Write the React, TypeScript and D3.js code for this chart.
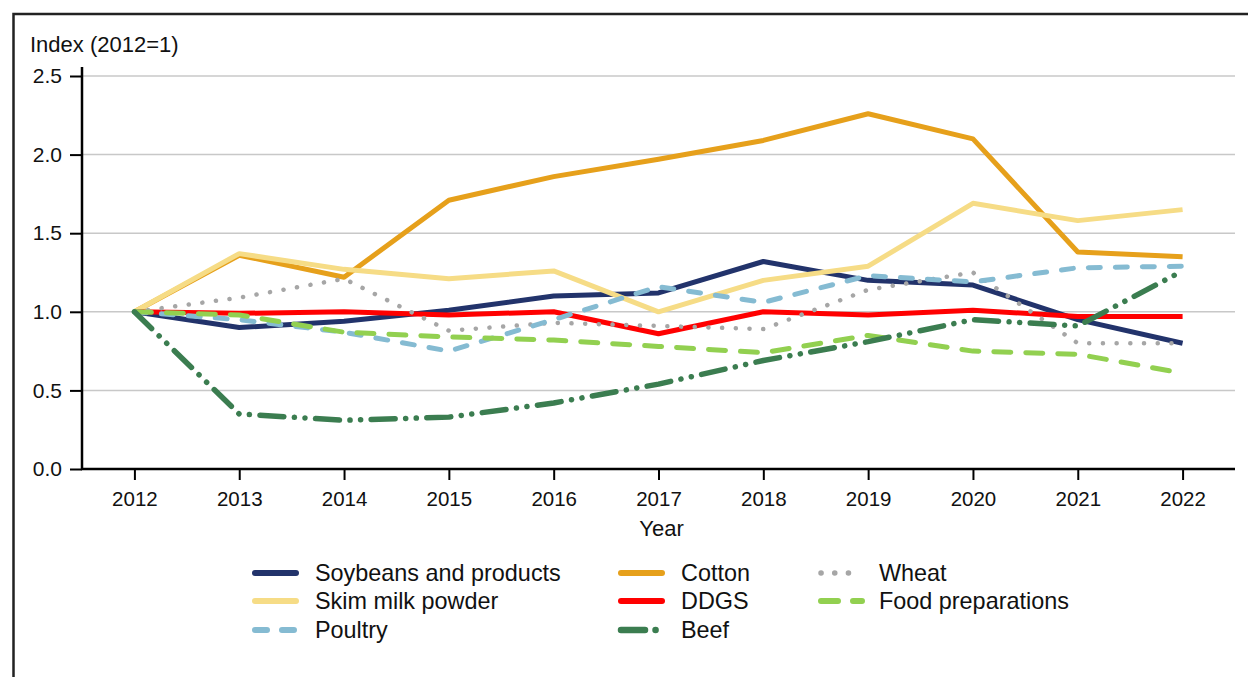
import * as React from "react";
import * as d3 from "d3";

const years = [2012, 2013, 2014, 2015, 2016, 2017, 2018, 2019, 2020, 2021, 2022];
const yTicks = [0, 0.5, 1.0, 1.5, 2.0, 2.5];

const soybeans = [1.0, 0.9, 0.94, 1.01, 1.1, 1.12, 1.32, 1.2, 1.17, 0.95, 0.8];
const cotton = [1.0, 1.36, 1.22, 1.71, 1.86, 1.97, 2.09, 2.26, 2.1, 1.38, 1.35];
const skimMilk = [1.0, 1.37, 1.27, 1.21, 1.26, 1.0, 1.2, 1.29, 1.69, 1.58, 1.65];
const poultry = [1.0, 0.95, 0.87, 0.75, 0.95, 1.16, 1.06, 1.23, 1.19, 1.28, 1.29];
const ddgs = [1.0, 0.99, 1.0, 0.98, 1.0, 0.86, 1.0, 0.98, 1.01, 0.97, 0.97];
const beef = [1.0, 0.35, 0.31, 0.33, 0.42, 0.54, 0.69, 0.81, 0.95, 0.91, 1.26];
const wheat = [1.0, 1.09, 1.21, 0.88, 0.93, 0.91, 0.89, 1.14, 1.25, 0.8, 0.8];
const foodPrep = [1.0, 0.98, 0.87, 0.84, 0.82, 0.78, 0.74, 0.85, 0.75, 0.73, 0.61];

interface Series {
  name: string;
  values: number[];
  color: string;
  width: number;
  dash?: string;
}

const soySeries: Series = { name: "Soybeans and products", values: soybeans, color: "#22336b", width: 5 };
const skimSeries: Series = { name: "Skim milk powder", values: skimMilk, color: "#f6dc86", width: 5 };
const poultrySeries: Series = { name: "Poultry", values: poultry, color: "#85bbd2", width: 5, dash: "12 15" };
const cottonSeries: Series = { name: "Cotton", values: cotton, color: "#e6a01b", width: 5 };
const ddgsSeries: Series = { name: "DDGS", values: ddgs, color: "#ff0000", width: 5 };
const beefSeries: Series = { name: "Beef", values: beef, color: "#3b7d50", width: 5.5, dash: "24 10.5 0.1 10.5 0.1 10.5" };
const wheatSeries: Series = { name: "Wheat", values: wheat, color: "#a6a6a6", width: 4.5, dash: "0.1 13.6" };
const foodSeries: Series = { name: "Food preparations", values: foodPrep, color: "#92d050", width: 5, dash: "17 15" };

// drawing order (bottom to top)
const drawOrder = [cottonSeries, soySeries, skimSeries, ddgsSeries, wheatSeries, poultrySeries, foodSeries, beefSeries];
// legend columns
const legendColumns = [
  [soySeries, skimSeries, poultrySeries],
  [cottonSeries, ddgsSeries, beefSeries],
  [wheatSeries, foodSeries],
];

const W = 1248;
const H = 677;
const FONT = "'Liberation Sans', Arial, sans-serif";

export default function App() {
  const svgRef = React.useRef<SVGSVGElement>(null);

  React.useEffect(() => {
    if (!svgRef.current) return;
    const svg = d3.select(svgRef.current);
    svg.selectAll("*").remove();

    const margin = { top: 76, left: 82, right: 1235, bottom: 469 };

    // outer frame, runs off the right and bottom edges
    svg.append("rect")
      .attr("x", 13.5).attr("y", 14)
      .attr("width", W).attr("height", H)
      .attr("fill", "none")
      .attr("stroke", "#222")
      .attr("stroke-width", 2.5);

    const x = d3.scalePoint<number>()
      .domain(years)
      .range([margin.left, margin.right])
      .padding(0.5);
    const y = d3.scaleLinear()
      .domain([0, 2.5])
      .range([margin.bottom, margin.top]);

    // gridlines
    svg.append("g")
      .selectAll("line")
      .data(yTicks.slice(1))
      .enter().append("line")
      .attr("x1", margin.left).attr("x2", margin.right)
      .attr("y1", d => y(d)).attr("y2", d => y(d))
      .attr("stroke", "#c8c8c8")
      .attr("stroke-width", 1.5);

    // series
    const line = d3.line<number>()
      .x((_, i) => x(years[i])!)
      .y(d => y(d));

    drawOrder.forEach((s) => {
      svg.append("path")
        .datum(s.values)
        .attr("d", line)
        .attr("fill", "none")
        .attr("stroke", s.color)
        .attr("stroke-width", s.width)
        .attr("stroke-linejoin", "round")
        .attr("stroke-linecap", s.dash ? "round" : "butt")
        .attr("stroke-dasharray", s.dash || null);
    });

    // axes
    const yAxis = svg.append("g")
      .attr("transform", `translate(${margin.left},0)`)
      .call(d3.axisLeft(y).tickValues(yTicks).tickFormat(d3.format(".1f")).tickSize(12).tickPadding(8).tickSizeOuter(0));
    yAxis.select(".domain").remove();
    yAxis.selectAll("line").attr("stroke", "#000").attr("stroke-width", 2);
    yAxis.selectAll("text").attr("font-size", 21).attr("font-family", FONT).attr("fill", "#111");

    const xAxis = svg.append("g")
      .attr("transform", `translate(0,${margin.bottom})`)
      .call(d3.axisBottom(x).tickFormat(d => String(d)).tickSize(11).tickPadding(11).tickSizeOuter(0));
    xAxis.select(".domain").remove();
    xAxis.selectAll("line").attr("stroke", "#000").attr("stroke-width", 2);
    xAxis.selectAll("text").attr("font-size", 20.5).attr("font-family", FONT).attr("fill", "#111");

    svg.append("path")
      .attr("d", `M${margin.left},67V${margin.bottom}H${margin.right}`)
      .attr("fill", "none")
      .attr("stroke", "#000")
      .attr("stroke-width", 2.5);

    // axis titles
    svg.append("text")
      .attr("x", 30).attr("y", 52)
      .attr("font-size", 22).attr("font-family", FONT).attr("fill", "#111")
      .text("Index (2012=1)");
    svg.append("text")
      .attr("x", (margin.left + margin.right) / 2 + 3).attr("y", 536)
      .attr("text-anchor", "middle")
      .attr("font-size", 22).attr("font-family", FONT).attr("fill", "#111")
      .text("Year");

    // legend
    const colX = [252, 618, 818];
    const rowY = [573, 601, 630];
    legendColumns.forEach((col, ci) => {
      col.forEach((s, ri) => {
        const g = svg.append("g").attr("transform", `translate(${colX[ci]},${rowY[ri]})`);
        g.append("line")
          .attr("x1", 3).attr("x2", 44)
          .attr("y1", 0).attr("y2", 0)
          .attr("stroke", s.color)
          .attr("stroke-width", s.width + 1)
          .attr("stroke-linecap", "round")
          .attr("stroke-dasharray", s.dash || null);
        g.append("text")
          .attr("x", ci === 2 ? 61 : 63).attr("y", 8)
          .attr("font-size", 23.4).attr("font-family", FONT).attr("fill", "#111")
          .text(s.name);
      });
    });
  }, []);

  return (
    <svg
      ref={svgRef}
      width={W}
      height={H}
      style={{ position: "absolute", left: 0, top: 0, background: "#fff" }}
    />
  );
}
